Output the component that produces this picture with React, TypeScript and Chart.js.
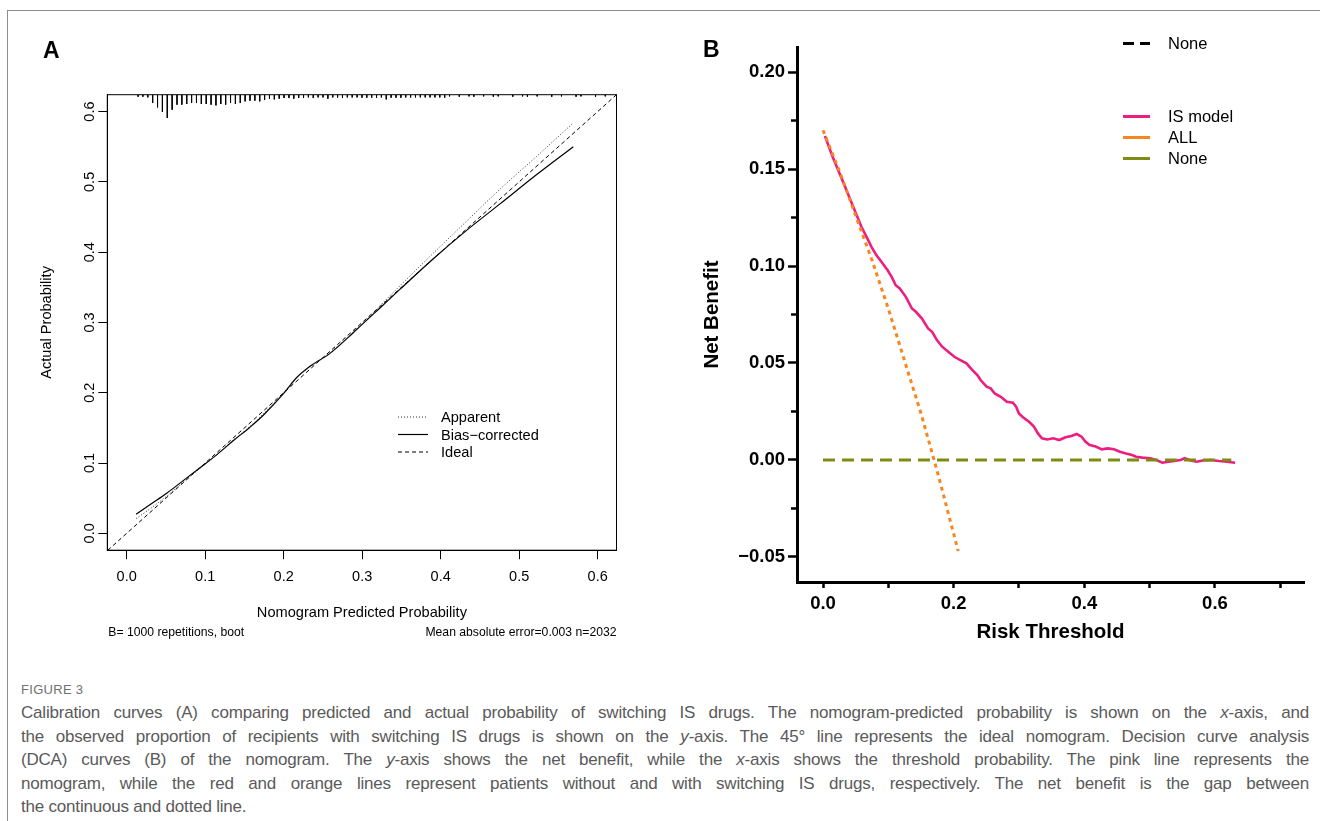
import React, { useEffect, useRef } from "react";
import { Chart, registerables } from "chart.js";

Chart.register(...registerables);

const FONT = "'Liberation Sans', Arial, Helvetica, sans-serif";
Chart.defaults.font.family = FONT;

// ---------------- Panel A : calibration curves ----------------
const xTicksA = [0, 0.1, 0.2, 0.3, 0.4, 0.5, 0.6];
const yTicksA = [0, 0.1, 0.2, 0.3, 0.4, 0.5, 0.6];

const apparentX = [0.012, 0.03, 0.051, 0.072, 0.093, 0.115, 0.136, 0.157, 0.174, 0.2, 0.216, 0.234, 0.259, 0.293, 0.323, 0.348, 0.391, 0.433, 0.476, 0.522, 0.569];
const apparentY = [0.021, 0.035, 0.053, 0.073, 0.092, 0.112, 0.133, 0.152, 0.17, 0.2, 0.221, 0.237, 0.257, 0.291, 0.324, 0.352, 0.399, 0.444, 0.49, 0.536, 0.584];

const biasX = [0.012, 0.03, 0.051, 0.072, 0.093, 0.115, 0.136, 0.157, 0.174, 0.2, 0.216, 0.234, 0.259, 0.293, 0.323, 0.348, 0.391, 0.433, 0.476, 0.522, 0.569];
const biasY = [0.027, 0.041, 0.057, 0.075, 0.093, 0.112, 0.132, 0.151, 0.168, 0.199, 0.221, 0.238, 0.256, 0.29, 0.321, 0.347, 0.391, 0.431, 0.469, 0.51, 0.55];

const idealX = [-0.024, 0.624];
const idealY = [-0.024, 0.624];

// histogram of predicted probabilities (spikes hanging from the top of the frame)
const rugStart = 0.0145;
const rugStep = 0.0062;
const rugCounts = [
  6, 6, 8, 25, 38, 52, 70, 45, 30, 30, 28, 25, 25, 28, 28, 30, 32, 28, 30, 25,
  28, 25, 20, 18, 18, 20, 16, 12, 14, 12, 10, 10, 12, 10, 10, 8, 10, 8, 8, 12,
  8, 8, 10, 8, 8, 8, 9, 9, 9, 9, 8, 14, 9, 9, 9, 8, 8, 8, 8, 8,
  8, 8, 8, 9, 5, 0, 6, 0, 5, 6, 0, 5, 0, 6, 5, 0, 0, 6, 0, 5,
  6, 0, 5, 0, 0, 6, 0, 5, 0, 0, 6, 5, 0, 0, 6, 0, 5,
];

const A_X_MIN = -0.0247;
const A_X_MAX = 0.624;
const A_Y_MIN = -0.024;
const A_Y_MAX = 0.624;
const RUG_UNIT = 0.000474;

// ---------------- Panel B : decision curves ----------------
const xTicksB = [0, 0.1, 0.2, 0.3, 0.4, 0.5, 0.6, 0.7];
const xLabelsB = [0, 0.2, 0.4, 0.6];
const yTicksB = [-0.05, 0, 0.05, 0.1, 0.15, 0.2];
const yMinorB = [-0.025, 0.025, 0.075, 0.125, 0.175];

const isModelT = [
  0.003, 0.015, 0.0297, 0.0402, 0.0495, 0.0588, 0.068, 0.0742, 0.0816, 0.0897,
  0.0989, 0.1051, 0.1113, 0.1175, 0.1268, 0.1361, 0.1422, 0.1515, 0.1608, 0.167,
  0.1744, 0.1824, 0.1917, 0.201, 0.2103, 0.2195, 0.2288, 0.2362, 0.2412, 0.2505,
  0.2567, 0.2628, 0.2721, 0.2814, 0.2907, 0.2956, 0.2999, 0.3061, 0.3154, 0.3228,
  0.329, 0.3352, 0.3432, 0.3525, 0.3618, 0.3711, 0.3803, 0.3884, 0.3958, 0.402,
  0.4082, 0.4174, 0.4267, 0.436, 0.4453, 0.4545, 0.4638, 0.4731, 0.4793, 0.4886,
  0.5009, 0.5102, 0.5195, 0.5288, 0.538, 0.5473, 0.5535, 0.5628, 0.572, 0.5813,
  0.5937, 0.6061, 0.6184, 0.6308,
];
const isModelNB = [
  0.167, 0.156, 0.1442, 0.1356, 0.1279, 0.1202, 0.1141, 0.1099, 0.1056, 0.1021,
  0.0978, 0.0944, 0.0901, 0.0884, 0.0841, 0.0781, 0.0764, 0.0729, 0.0678, 0.0661,
  0.0618, 0.0584, 0.0558, 0.0532, 0.0515, 0.0498, 0.0463, 0.0438, 0.0412, 0.0378,
  0.0369, 0.0343, 0.0326, 0.03, 0.0295, 0.0275, 0.024, 0.022, 0.0197, 0.0172,
  0.0137, 0.0112, 0.0106, 0.0112, 0.0103, 0.0117, 0.0124, 0.0134, 0.012, 0.0094,
  0.0077, 0.0069, 0.0055, 0.006, 0.0055, 0.0043, 0.0034, 0.0026, 0.0017, 0.0012,
  0.0009, 0.0, -0.0014, -0.0009, -0.0005, 0.0, 0.0009, -0.0003, -0.0009, -0.0003,
  0.0, -0.0005, -0.0009, -0.0014,
];

const allT = [0, 0.025, 0.05, 0.075, 0.1, 0.125, 0.15, 0.175, 0.2, 0.207];
const allNB = [0.17, 0.149, 0.126, 0.103, 0.078, 0.051, 0.024, -0.006, -0.038, -0.047];

const noneT = [0, 0.625];
const noneNB = [0, 0];

const B_X_MIN = -0.0398;
const B_X_MAX = 0.7363;
const B_Y_MIN = -0.0629;
const B_Y_MAX = 0.2129;

const PINK = "#EC1E80";
const ORANGE = "#F7861F";
const OLIVE = "#7F8B12";

function zip(xs: number[], ys: number[]) {
  return xs.map((x, i) => ({ x, y: ys[i] }));
}

function buildRug() {
  const pts: { x: number; y: number | null }[] = [];
  rugCounts.forEach((c, i) => {
    if (c <= 0) return;
    const x = rugStart + i * rugStep;
    pts.push({ x, y: A_Y_MAX }, { x, y: A_Y_MAX - c * RUG_UNIT }, { x, y: null });
  });
  return pts;
}

const panelAPlugin = {
  id: "panelAExtras",
  afterDatasetsDraw(chart: any) {
    const { ctx, chartArea: a } = chart;
    ctx.save();
    ctx.strokeStyle = "#000";
    ctx.lineWidth = 1;
    ctx.strokeRect(a.left, a.top, a.right - a.left, a.bottom - a.top);
    ctx.restore();
  },
  afterDraw(chart: any) {
    const { ctx, chartArea: a } = chart;
    ctx.save();
    // legend
    const items = chart.data.datasets.filter((d: any) => d.showInLegend);
    const ys = [417, 434.5, 452];
    ctx.font = `14.6px ${FONT}`;
    ctx.textBaseline = "middle";
    ctx.textAlign = "left";
    items.forEach((d: any, i: number) => {
      const y = ys[i];
      ctx.strokeStyle = d.borderColor;
      ctx.lineWidth = d.borderWidth;
      ctx.setLineDash(d.borderDash || []);
      ctx.beginPath();
      ctx.moveTo(398, y);
      ctx.lineTo(428, y);
      ctx.stroke();
      ctx.setLineDash([]);
      ctx.fillStyle = "#000";
      ctx.fillText(d.label, 441, y + 1);
    });
    // notes under the axis
    ctx.font = `12.2px ${FONT}`;
    ctx.fillStyle = "#000";
    ctx.textAlign = "left";
    ctx.fillText("B= 1000 repetitions, boot", a.left + 1, 633);
    ctx.textAlign = "right";
    ctx.fillText("Mean absolute error=0.003 n=2032", a.right, 633);
    ctx.restore();
  },
};

const panelBPlugin = {
  id: "panelBExtras",
  afterDraw(chart: any) {
    const { ctx, chartArea: a, scales } = chart;
    const y = scales.y;
    ctx.save();
    ctx.strokeStyle = "#000";
    ctx.lineWidth = 2.5;
    yMinorB.forEach((v) => {
      const py = y.getPixelForValue(v);
      ctx.beginPath();
      ctx.moveTo(a.left - 6, py);
      ctx.lineTo(a.left, py);
      ctx.stroke();
    });
    // legend
    ctx.font = `16.5px ${FONT}`;
    ctx.textBaseline = "middle";
    ctx.textAlign = "left";
    const entries = [
      { label: "None", color: "#000", dash: [11, 6], y: 43.5 },
      { label: "IS model", color: PINK, dash: [], y: 116.5 },
      { label: "ALL", color: ORANGE, dash: [], y: 137.5 },
      { label: "None", color: OLIVE, dash: [], y: 158.5 },
    ];
    entries.forEach((e) => {
      ctx.strokeStyle = e.color;
      ctx.lineWidth = 3;
      ctx.setLineDash(e.dash);
      ctx.beginPath();
      ctx.moveTo(433, e.y);
      ctx.lineTo(460, e.y);
      ctx.stroke();
      ctx.setLineDash([]);
      ctx.fillStyle = "#000";
      ctx.fillText(e.label, 478, e.y + 1);
    });
    ctx.restore();
  },
};

function PanelA() {
  const ref = useRef<HTMLCanvasElement | null>(null);
  useEffect(() => {
    if (!ref.current) return;
    const tickFont = { size: 14.5, family: FONT };
    const chart = new Chart(ref.current, {
      type: "line",
      data: {
        datasets: [
          {
            label: "Apparent",
            showInLegend: true,
            data: zip(apparentX, apparentY),
            borderColor: "#333",
            borderWidth: 1,
            borderDash: [1, 2],
            pointRadius: 0,
            cubicInterpolationMode: "monotone",
            fill: false,
          },
          {
            label: "Bias\u2212corrected",
            showInLegend: true,
            data: zip(biasX, biasY),
            borderColor: "#000",
            borderWidth: 1.2,
            borderDash: [],
            pointRadius: 0,
            cubicInterpolationMode: "monotone",
            fill: false,
          },
          {
            label: "Ideal",
            showInLegend: true,
            data: zip(idealX, idealY),
            borderColor: "#000",
            borderWidth: 1,
            borderDash: [4, 3],
            pointRadius: 0,
            fill: false,
          },
          {
            label: "rug",
            showInLegend: false,
            data: buildRug(),
            borderColor: "#000",
            borderWidth: 1,
            pointRadius: 0,
            spanGaps: false,
            fill: false,
          },
        ] as any,
      },
      options: {
        responsive: false,
        animation: false,
        devicePixelRatio: 1,
        layout: { padding: { left: 20, right: 63.5, top: 94.7, bottom: 34.8 } },
        plugins: { legend: { display: false }, tooltip: { enabled: false } },
        scales: {
          x: {
            type: "linear",
            min: A_X_MIN,
            max: A_X_MAX,
            offset: false,
            afterBuildTicks: (s: any) => {
              s.ticks = xTicksA.map((v) => ({ value: v }));
            },
            afterFit: (s: any) => {
              s.height = 75;
            },
            ticks: {
              callback: (v: any) => Number(v).toFixed(1),
              font: tickFont,
              color: "#000",
              padding: 9,
              maxRotation: 0,
              autoSkip: false,
            },
            grid: { drawOnChartArea: false, drawTicks: true, tickLength: 9, tickColor: "#000", tickWidth: 1 },
            border: { display: true, color: "#000", width: 1 },
            title: {
              display: true,
              text: "Nomogram Predicted Probability",
              font: { size: 14.6, family: FONT },
              color: "#000",
              padding: { top: 0, bottom: 3.2 },
            },
          },
          y: {
            type: "linear",
            min: A_Y_MIN,
            max: A_Y_MAX,
            afterBuildTicks: (s: any) => {
              s.ticks = yTicksA.map((v) => ({ value: v }));
            },
            afterFit: (s: any) => {
              s.width = 87.3;
            },
            ticks: {
              callback: (v: any) => Number(v).toFixed(1),
              font: tickFont,
              color: "#000",
              padding: -1.8,
              minRotation: 90,
              maxRotation: 90,
              crossAlign: "center",
              autoSkip: false,
            },
            grid: { drawOnChartArea: false, drawTicks: true, tickLength: 9, tickColor: "#000", tickWidth: 1 },
            border: { display: true, color: "#000", width: 1 },
            title: {
              display: true,
              text: "Actual Probability",
              font: { size: 14.6, family: FONT },
              color: "#000",
              padding: { top: 18.7, bottom: 0 },
            },
          },
        },
      } as any,
      plugins: [panelAPlugin],
    });
    return () => chart.destroy();
  }, []);
  return (
    <canvas
      ref={ref}
      width={680}
      height={660}
      style={{ position: "absolute", left: 0, top: 0, width: 680, height: 660 }}
    />
  );
}

function PanelB() {
  const ref = useRef<HTMLCanvasElement | null>(null);
  useEffect(() => {
    if (!ref.current) return;
    const tickFont = { size: 18.5, family: FONT, weight: "bold" };
    const titleFont = { size: 20.5, family: FONT, weight: "bold" };
    const chart = new Chart(ref.current, {
      type: "line",
      data: {
        datasets: [
          {
            label: "ALL",
            data: zip(allT, allNB),
            borderColor: ORANGE,
            borderWidth: 3,
            borderDash: [4, 4],
            pointRadius: 0,
            fill: false,
          },
          {
            label: "None",
            data: zip(noneT, noneNB),
            borderColor: OLIVE,
            borderWidth: 3,
            borderDash: [12, 7],
            pointRadius: 0,
            fill: false,
          },
          {
            label: "IS model",
            data: zip(isModelT, isModelNB),
            borderColor: PINK,
            borderWidth: 2.6,
            pointRadius: 0,
            tension: 0,
            fill: false,
          },
        ],
      },
      options: {
        responsive: false,
        animation: false,
        devicePixelRatio: 1,
        layout: { padding: { left: 0, right: 16, top: 47, bottom: 8 } },
        plugins: { legend: { display: false }, tooltip: { enabled: false } },
        scales: {
          x: {
            type: "linear",
            min: B_X_MIN,
            max: B_X_MAX,
            offset: false,
            afterBuildTicks: (s: any) => {
              s.ticks = xTicksB.map((v) => ({ value: v }));
            },
            afterFit: (s: any) => {
              s.height = 70;
            },
            ticks: {
              callback: (v: any) =>
                xLabelsB.some((l) => Math.abs(l - Number(v)) < 1e-9) ? Number(v).toFixed(1) : "",
              font: tickFont,
              color: "#000",
              padding: 4.9,
              maxRotation: 0,
              autoSkip: false,
            },
            grid: { drawOnChartArea: false, drawTicks: true, tickLength: 6, tickColor: "#000", tickWidth: 2.5 },
            border: { display: true, color: "#000", width: 3 },
            title: {
              display: true,
              text: "Risk Threshold",
              font: titleFont,
              color: "#000",
              padding: { top: 0, bottom: 7.2 },
            },
          },
          y: {
            type: "linear",
            min: B_Y_MIN,
            max: B_Y_MAX,
            afterBuildTicks: (s: any) => {
              s.ticks = yTicksB.map((v) => ({ value: v }));
            },
            afterFit: (s: any) => {
              s.width = 107;
            },
            ticks: {
              callback: (v: any) => {
                const n = Number(v);
                return n < 0 ? "\u2212" + Math.abs(n).toFixed(2) : n.toFixed(2);
              },
              font: tickFont,
              color: "#000",
              padding: 3,
              autoSkip: false,
            },
            grid: { drawOnChartArea: false, drawTicks: true, tickLength: 9, tickColor: "#000", tickWidth: 2.5 },
            border: { display: true, color: "#000", width: 3 },
            title: {
              display: true,
              text: "Net Benefit",
              font: titleFont,
              color: "#000",
              padding: { top: 9.7, bottom: 0 },
            },
          },
        },
      } as any,
      plugins: [panelBPlugin],
    });
    return () => chart.destroy();
  }, []);
  return (
    <canvas
      ref={ref}
      width={630}
      height={660}
      style={{ position: "absolute", left: 690, top: 0, width: 630, height: 660 }}
    />
  );
}

const captionLines: React.ReactNode[] = [
  <>Calibration curves (A) comparing predicted and actual probability of switching IS drugs. The nomogram-predicted probability is shown on the <i>x</i>-axis, and</>,
  <>the observed proportion of recipients with switching IS drugs is shown on the <i>y</i>-axis. The 45° line represents the ideal nomogram. Decision curve analysis</>,
  <>(DCA) curves (B) of the nomogram. The <i>y</i>-axis shows the net benefit, while the <i>x</i>-axis shows the threshold probability. The pink line represents the</>,
  <>nomogram, while the red and orange lines represent patients without and with switching IS drugs, respectively. The net benefit is the gap between</>,
  <>the continuous and dotted line.</>,
];
const captionCenters = [713, 737, 760, 784, 807];

export default function App() {
  return (
    <div
      style={{
        position: "absolute",
        left: 0,
        top: 0,
        width: 1320,
        height: 821,
        background: "#fff",
        overflow: "hidden",
        fontFamily: FONT,
      }}
    >
      <div
        style={{
          position: "absolute",
          left: 7,
          top: 10,
          width: 1320,
          height: 820,
          borderTop: "1px solid #8c8c8c",
          borderLeft: "1px solid #8c8c8c",
        }}
      />
      <PanelA />
      <PanelB />
      <div style={{ position: "absolute", left: 43, top: 39, fontSize: 23, fontWeight: "bold", lineHeight: 1, color: "#000" }}>A</div>
      <div style={{ position: "absolute", left: 703, top: 38, fontSize: 23, fontWeight: "bold", lineHeight: 1, color: "#000" }}>B</div>
      <div
        style={{
          position: "absolute",
          left: 21,
          top: 690 - 9,
          fontSize: 13,
          lineHeight: "18px",
          color: "#707070",
          letterSpacing: 0.3,
          whiteSpace: "nowrap",
        }}
      >
        FIGURE 3
      </div>
      {captionLines.map((line, i) => (
        <div
          key={i}
          style={{
            position: "absolute",
            left: 21,
            top: captionCenters[i] - 11,
            width: 1288,
            fontSize: 17,
            letterSpacing: -0.2,
            lineHeight: "22px",
            color: "#5a5a5a",
            textAlign: "justify",
            textAlignLast: i < captionLines.length - 1 ? "justify" : "left",
          }}
        >
          {line}
        </div>
      ))}
    </div>
  );
}
